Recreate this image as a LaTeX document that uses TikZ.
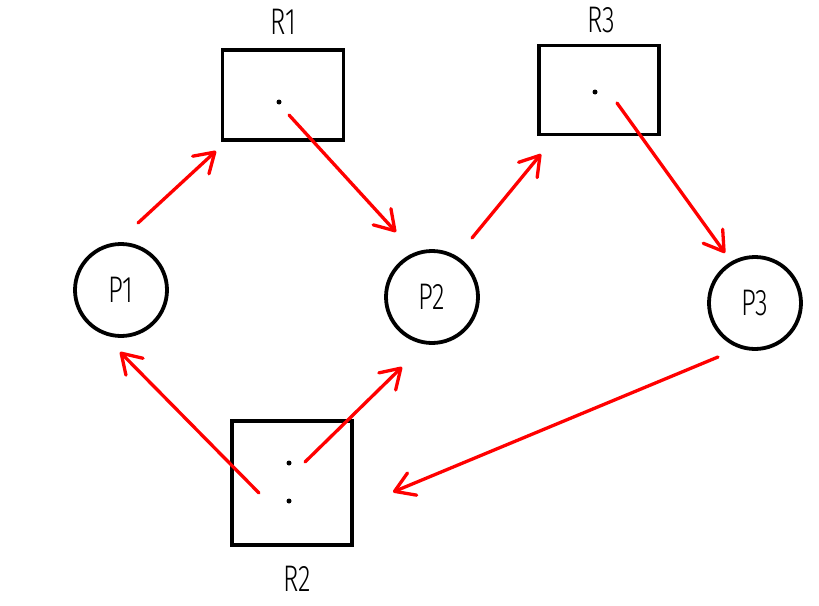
\documentclass[tikz,border=0pt]{standalone}
\usepackage{fontspec}
\setmainfont{Fira Sans Light}[FakeStretch=0.7]
\usetikzlibrary{arrows.meta}
\begin{document}
\begin{tikzpicture}[x=1pt,y=-1pt,
  proc/.style={draw=black,line width=3.8pt,circle,minimum size=92pt,inner sep=0pt,font=\fontsize{37}{37}\selectfont},
  res/.style={draw=black,line width=3.8pt,rectangle,inner sep=0pt},
  lbl/.style={font=\fontsize{37}{37}\selectfont,inner sep=0pt},
  dotmark/.style={circle,fill=black,inner sep=0pt,minimum size=5pt},
  edge/.style={draw=red,line width=3.3pt,line cap=round,-{Straight Barb[length=19pt,width=24pt,round]}}]
\useasboundingbox (0,0) rectangle (819,605);
% processes
\node[proc] (P1) at (121,290) {P1};
\node[proc] (P2) at (432,297) {P2};
\node[proc] (P3) at (755,303) {P3};
% resources
\node[res,minimum width=121pt,minimum height=90pt] (R1) at (283,95) {};
\node[res,minimum width=120pt,minimum height=89pt] (R3) at (599,90) {};
\node[res,minimum width=120pt,minimum height=124pt] (R2) at (292,483) {};
\node[lbl] (L1) at (283,22) {R1};
\node[lbl] (L3) at (601,20) {R3};
\node[lbl] (L2) at (297,579) {R2};
% instance dots
\node[dotmark] (d1) at (279,102) {};
\node[dotmark] (d3) at (595,92) {};
\node[dotmark] (d2a) at (289,463) {};
\node[dotmark] (d2b) at (289,501) {};
% arrow end points
\coordinate (a1s) at (138,223); \coordinate (a1e) at (216,151);
\coordinate (a2s) at (289,115); \coordinate (a2e) at (396,232);
\coordinate (a3s) at (472,238); \coordinate (a3e) at (541,154);
\coordinate (a4s) at (617,103); \coordinate (a4e) at (725,253);
\coordinate (a5s) at (718,357); \coordinate (a5e) at (393,492);
\coordinate (a6s) at (259,493); \coordinate (a6e) at (120,352);
\coordinate (a7s) at (305,462); \coordinate (a7e) at (402,367);
\draw[edge] (a1s) -- (a1e);
\draw[edge] (a2s) -- (a2e);
\draw[edge] (a3s) -- (a3e);
\draw[edge] (a4s) -- (a4e);
\draw[edge] (a5s) -- (a5e);
\draw[edge] (a6s) -- (a6e);
\draw[edge] (a7s) -- (a7e);
\end{tikzpicture}
\end{document}
